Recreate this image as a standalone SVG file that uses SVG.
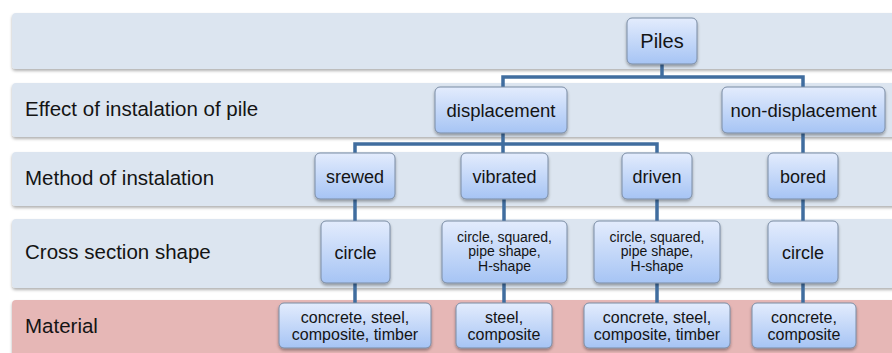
<svg xmlns="http://www.w3.org/2000/svg" width="892" height="353" viewBox="0 0 892 353">
<defs>
  <linearGradient id="ng" x1="0" y1="0" x2="0" y2="1">
    <stop offset="0" stop-color="#e3ecfd"/>
    <stop offset="1" stop-color="#a6c4f4"/>
  </linearGradient>
  <filter id="sh" x="-10%" y="-20%" width="120%" height="150%">
    <feDropShadow dx="0" dy="2" stdDeviation="1.5" flood-color="#000" flood-opacity="0.35"/>
  </filter>
  <filter id="bsh" x="-5%" y="-20%" width="110%" height="150%">
    <feDropShadow dx="0" dy="2" stdDeviation="1.5" flood-color="#000" flood-opacity="0.3"/>
  </filter>
</defs>
<style>
  .band { fill: #dce5f0; filter: url(#bsh); }
  .band.mat { fill: #e6b7b6; }
  .lbl { font-family: "Liberation Sans", Arial, sans-serif; font-size: 20.5px; fill: #141414; }
  .node rect { fill: url(#ng); stroke: #7b8ca4; stroke-width: 1; filter: url(#sh); }
  .node text { font-family: "Liberation Sans", Arial, sans-serif; fill: #141414; text-anchor: middle; }
  .t20 { font-size: 20px; }
  .t185 { font-size: 18.5px; }
  .t18 { font-size: 18px; }
  .t16 { font-size: 16px; }
  .t14 { font-size: 14px; }
  .conn path { fill: none; stroke: #406d9f; stroke-width: 3.5; }
</style>
<rect width="892" height="353" fill="#ffffff"/>
<g id="bands">
  <rect class="band" x="12" y="13" width="900" height="56" rx="4"/>
  <rect class="band" x="12" y="83" width="900" height="54" rx="4"/>
  <rect class="band" x="12" y="152" width="900" height="54" rx="4"/>
  <rect class="band" x="12" y="219" width="900" height="69" rx="4"/>
  <rect class="band mat" x="12" y="300" width="900" height="70" rx="4"/>
  <text class="lbl" x="25" y="116">Effect of instalation of pile</text>
  <text class="lbl" x="25" y="185">Method of instalation</text>
  <text class="lbl" x="25" y="259">Cross section shape</text>
  <text class="lbl" x="25" y="333">Material</text>
</g>
<g class="conn" id="connectors">
  <path d="M662 64 V77 M503 87 V77 H803 V87"/>
  <path d="M503 133 V153 M355 153 V144 H657 V153"/>
  <path d="M803 133 V153"/>
  <path d="M355 199 V221 M355 283 V303"/>
  <path d="M504 199 V221 M504 283 V303"/>
  <path d="M657 199 V221 M657 283 V303"/>
  <path d="M803 199 V221 M803 283 V303"/>
</g>
<g class="node" id="piles"><rect x="627" y="18" width="70" height="46" rx="5"/><text class="t20" x="662" y="48">Piles</text></g>
<g class="node" id="displacement"><rect x="435" y="87" width="132" height="46" rx="5"/><text class="t185" x="501" y="116.5">displacement</text></g>
<g class="node" id="non-displacement"><rect x="722" y="87" width="163" height="46" rx="5"/><text class="t185" x="803.5" y="116.5">non-displacement</text></g>
<g class="node" id="srewed"><rect x="315" y="153" width="80" height="46" rx="5"/><text class="t18" x="355" y="182.5">srewed</text></g>
<g class="node" id="vibrated"><rect x="461" y="153" width="87" height="46" rx="5"/><text class="t18" x="504.5" y="182.5">vibrated</text></g>
<g class="node" id="driven"><rect x="622" y="153" width="70" height="46" rx="5"/><text class="t18" x="657" y="182.5">driven</text></g>
<g class="node" id="bored"><rect x="768" y="153" width="70" height="46" rx="5"/><text class="t18" x="803" y="182.5">bored</text></g>
<g class="node" id="shape-srewed"><rect x="321" y="221" width="69" height="62" rx="5"/><text class="t18" x="355.5" y="258.5">circle</text></g>
<g class="node" id="shape-vibrated"><rect x="442" y="221" width="125" height="62" rx="5"/><text class="t14" x="504.5" y="241.5">circle, squared,</text><text class="t14" x="504.5" y="256">pipe shape,</text><text class="t14" x="504.5" y="270.5">H-shape</text></g>
<g class="node" id="shape-driven"><rect x="594" y="221" width="126" height="62" rx="5"/><text class="t14" x="657" y="241.5">circle, squared,</text><text class="t14" x="657" y="256">pipe shape,</text><text class="t14" x="657" y="270.5">H-shape</text></g>
<g class="node" id="shape-bored"><rect x="768" y="221" width="70" height="62" rx="5"/><text class="t18" x="803" y="258.5">circle</text></g>
<g class="node" id="mat-srewed"><rect x="279" y="303" width="152" height="45" rx="5"/><text class="t16" x="355" y="322.5">concrete, steel,</text><text class="t16" x="355" y="339.5">composite, timber</text></g>
<g class="node" id="mat-vibrated"><rect x="456" y="303" width="96" height="45" rx="5"/><text class="t16" x="504" y="322.5">steel,</text><text class="t16" x="504" y="339.5">composite</text></g>
<g class="node" id="mat-driven"><rect x="584" y="303" width="146" height="45" rx="5"/><text class="t16" x="657" y="322.5">concrete, steel,</text><text class="t16" x="657" y="339.5">composite, timber</text></g>
<g class="node" id="mat-bored"><rect x="752" y="303" width="104" height="45" rx="5"/><text class="t16" x="804" y="322.5">concrete,</text><text class="t16" x="804" y="339.5">composite</text></g>
</svg>
